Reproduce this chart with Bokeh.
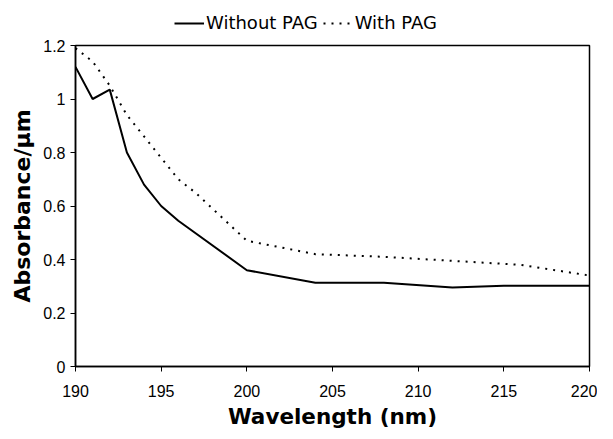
from bokeh.plotting import figure
from bokeh.models import Range1d, FixedTicker, Legend, LegendItem
from bokeh.layouts import column
from bokeh.embed import file_html
from bokeh.resources import INLINE

# Data
wl_without = [190, 191, 192, 193, 194, 195, 196, 200, 204, 208, 212, 215, 220]
abs_without = [1.12, 1.00, 1.035, 0.80, 0.68, 0.60, 0.545, 0.36, 0.313, 0.313, 0.295, 0.302, 0.302]

wl_with = [190, 191, 192, 193, 194, 195, 196, 197, 198, 199, 200, 204, 208, 212, 216, 220]
abs_with = [1.19, 1.14, 1.05, 0.94, 0.86, 0.78, 0.70, 0.65, 0.59, 0.53, 0.47, 0.42, 0.41, 0.395, 0.38, 0.34]

series_names = ["Without PAG", "With PAG"]

x_ticks = [190, 195, 200, 205, 210, 215, 220]
y_ticks = [0, 0.2, 0.4, 0.6, 0.8, 1.0, 1.2]
y_tick_labels = ["0", "0.2", "0.4", "0.6", "0.8", "1", "1.2"]

FONT = "Liberation Sans"
TITLE_FONT = "DejaVu Sans"

SOLID = dict(line_color="black", line_width=2)
DOTTED = dict(line_color="black", line_width=2, line_dash="2 6")

LEG_H = 37

# ---- main chart ----
p = figure(width=597, height=423 - LEG_H + 8, output_backend="svg", toolbar_location=None,
           x_range=Range1d(190, 220), y_range=Range1d(0, 1.2),
           min_border_left=75, min_border_right=8, min_border_top=8, min_border_bottom=61)

p.line(wl_without, abs_without, **SOLID)
p.line(wl_with, abs_with, **DOTTED)

p.xgrid.visible = False
p.ygrid.visible = False
p.outline_line_color = "black"
p.outline_line_width = 1.5
p.background_fill_color = "white"
p.border_fill_color = "white"

p.xaxis.ticker = FixedTicker(ticks=x_ticks)
p.yaxis.ticker = FixedTicker(ticks=y_ticks)
p.yaxis.major_label_overrides = {t: l for t, l in zip(y_ticks, y_tick_labels)}
p.xaxis.major_label_overrides = {t: str(t) for t in x_ticks}

for ax in (p.xaxis[0], p.yaxis[0]):
    ax.axis_line_color = "black"
    ax.axis_line_width = 1.5
    ax.major_tick_line_color = "black"
    ax.major_tick_in = 0
    ax.major_tick_out = 5
    ax.minor_tick_line_color = None
    ax.major_label_text_font = FONT
    ax.major_label_text_font_size = "16px"
    ax.major_label_text_color = "black"
    ax.axis_label_text_font = TITLE_FONT
    ax.axis_label_text_font_style = "bold"
    ax.axis_label_text_color = "black"

p.xaxis.axis_label = "Wavelength (nm)"
p.yaxis.axis_label = "Absorbance/μm"
p.xaxis.axis_label_text_font_size = "21.5px"
p.yaxis.axis_label_text_font_size = "22px"
p.xaxis.major_label_standoff = 13
p.xaxis.axis_label_standoff = 4
p.yaxis.major_label_standoff = 5
p.yaxis.axis_label_standoff = 5

# ---- legend strip above the chart ----
lg = figure(width=597, height=LEG_H, output_backend="svg", toolbar_location=None,
            x_range=Range1d(0, 1), y_range=Range1d(0, 1),
            x_axis_type=None, y_axis_type=None,
            min_border_left=0, min_border_right=0, min_border_top=0, min_border_bottom=0)
lg.outline_line_color = None
lg.xgrid.visible = False
lg.ygrid.visible = False
# legend renderers carry the real data, which lies outside this strip's ranges
l1 = lg.line(wl_without, abs_without, **SOLID)
l2 = lg.line(wl_with, abs_with, **DOTTED)

legend = Legend(items=[LegendItem(label=series_names[0], renderers=[l1]),
                       LegendItem(label=series_names[1], renderers=[l2])],
                orientation="horizontal", location=(99, 4),
                glyph_width=30, glyph_height=16, label_standoff=2, spacing=5,
                padding=0, margin=0, border_line_color=None,
                background_fill_alpha=0,
                label_text_font="DejaVu Sans", label_text_font_size="18px",
                label_text_color="black", label_height=16)
lg.add_layout(legend, "center")

layout = column(lg, p, spacing=0)
open("out.html", "w").write(file_html(layout, INLINE))
